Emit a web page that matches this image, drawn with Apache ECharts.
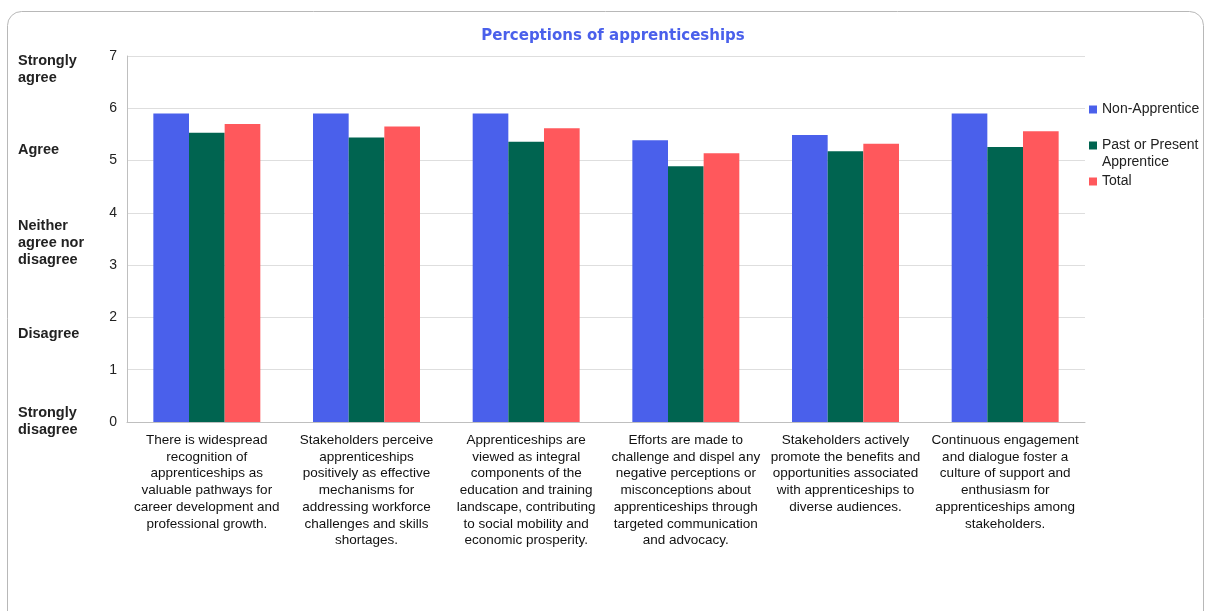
<!DOCTYPE html>
<html>
<head>
<meta charset="utf-8">
<script src="https://cdn.jsdelivr.net/npm/echarts@6/dist/echarts.min.js"></script>
<style>
  html, body { margin: 0; padding: 0; background: #ffffff; }
  #chart { width: 1205px; height: 611px; }
</style>
</head>
<body>
<div id="chart"></div>
<script>
// Statements rated by respondents (wrapped as shown under each group)
const categories = [
  'There is widespread\nrecognition of\napprenticeships as\nvaluable pathways for\ncareer development and\nprofessional growth.',
  'Stakeholders perceive\napprenticeships\npositively as effective\nmechanisms for\naddressing workforce\nchallenges and skills\nshortages.',
  'Apprenticeships are\nviewed as integral\ncomponents of the\neducation and training\nlandscape, contributing\nto social mobility and\neconomic prosperity.',
  'Efforts are made to\nchallenge and dispel any\nnegative perceptions or\nmisconceptions about\napprenticeships through\ntargeted communication\nand advocacy.',
  'Stakeholders actively\npromote the benefits and\nopportunities associated\nwith apprenticeships to\ndiverse audiences.',
  'Continuous engagement\nand dialogue foster a\nculture of support and\nenthusiasm for\napprenticeships among\nstakeholders.'
];

// Mean agreement scores (0 = strongly disagree ... 7 = strongly agree)
const nonApprentice = [5.90, 5.90, 5.90, 5.39, 5.49, 5.90];
const pastOrPresentApprentice = [5.53, 5.44, 5.36, 4.89, 5.18, 5.26];
const total = [5.70, 5.65, 5.62, 5.14, 5.32, 5.56];

const seriesNames = ['Non-Apprentice', 'Past or Present Apprentice', 'Total'];
const yTicks = { min: 0, max: 7, interval: 1 };

// Verbal scale anchors shown beside the value axis
const scaleLabels = [
  { text: 'Strongly\nagree', top: 52 },
  { text: 'Agree', top: 141 },
  { text: 'Neither\nagree nor\ndisagree', top: 217 },
  { text: 'Disagree', top: 325 },
  { text: 'Strongly\ndisagree', top: 404 }
];

const colors = ['#4A60EB', '#006450', '#FF585C'];
const FONT = '"Liberation Sans", Arial, sans-serif';

const chart = echarts.init(document.getElementById('chart'), null, { renderer: 'canvas' });

const graphics = [
  {
    type: 'rect',
    shape: { x: 7.5, y: 11.5, width: 1196, height: 700, r: 14 },
    style: { fill: 'none', stroke: '#b8b8b8', lineWidth: 1 },
    silent: true, z: -10
  }
].concat(scaleLabels.map(s => ({
  type: 'text',
  left: 18, top: s.top,
  style: {
    text: s.text,
    font: 'bold 14.5px ' + FONT,
    fill: '#222',
    lineHeight: 17
  }
})));

function legendFor(name, top, label) {
  return {
    data: [name],
    left: 1089,
    top: top,
    orient: 'vertical',
    icon: 'rect',
    itemWidth: 8,
    itemHeight: 8,
    itemGap: 0,
    padding: 0,
    selectedMode: false,
    formatter: label || '{name}',
    textStyle: {
      fontFamily: FONT,
      fontSize: 14,
      color: '#222',
      lineHeight: 17
    }
  };
}

const option = {
  animation: false,
  backgroundColor: '#ffffff',
  color: colors,
  title: {
    text: 'Perceptions of apprenticeships',
    left: 608,
    textAlign: 'center',
    top: 24,
    textStyle: { fontFamily: '"DejaVu Sans", sans-serif', fontSize: 15, fontWeight: 'bold', color: '#4A60EB' }
  },
  legend: [
    legendFor(seriesNames[0], 101),
    // blank first line keeps the marker level with the first text line
    legendFor(seriesNames[1], 120, ' \nPast or Present\nApprentice'),
    legendFor(seriesNames[2], 173)
  ],
  grid: { left: 127, right: 120, top: 56, bottom: 189, containLabel: false },
  xAxis: {
    type: 'category',
    data: categories,
    axisLine: { lineStyle: { color: '#bfbfbf' } },
    axisTick: { show: false },
    axisLabel: {
      interval: 0,
      margin: 10,
      fontFamily: FONT,
      fontSize: 13.5,
      color: '#111',
      lineHeight: 16.7,
      align: 'center'
    }
  },
  yAxis: {
    type: 'value',
    min: yTicks.min,
    max: yTicks.max,
    interval: yTicks.interval,
    axisLine: { show: true, lineStyle: { color: '#bfbfbf' } },
    axisTick: { show: false },
    axisLabel: { fontFamily: FONT, fontSize: 14, color: '#222', margin: 10, padding: [3, 0, 0, 0] },
    splitLine: { lineStyle: { color: '#dedede', width: 1 } }
  },
  series: [
    { name: seriesNames[0], type: 'bar', data: nonApprentice, barGap: '0%', barCategoryGap: '33%' },
    { name: seriesNames[1], type: 'bar', data: pastOrPresentApprentice, barGap: '0%', barCategoryGap: '33%' },
    { name: seriesNames[2], type: 'bar', data: total, barGap: '0%', barCategoryGap: '33%' }
  ],
  graphic: graphics
};

chart.setOption(option);
</script>
</body>
</html>
